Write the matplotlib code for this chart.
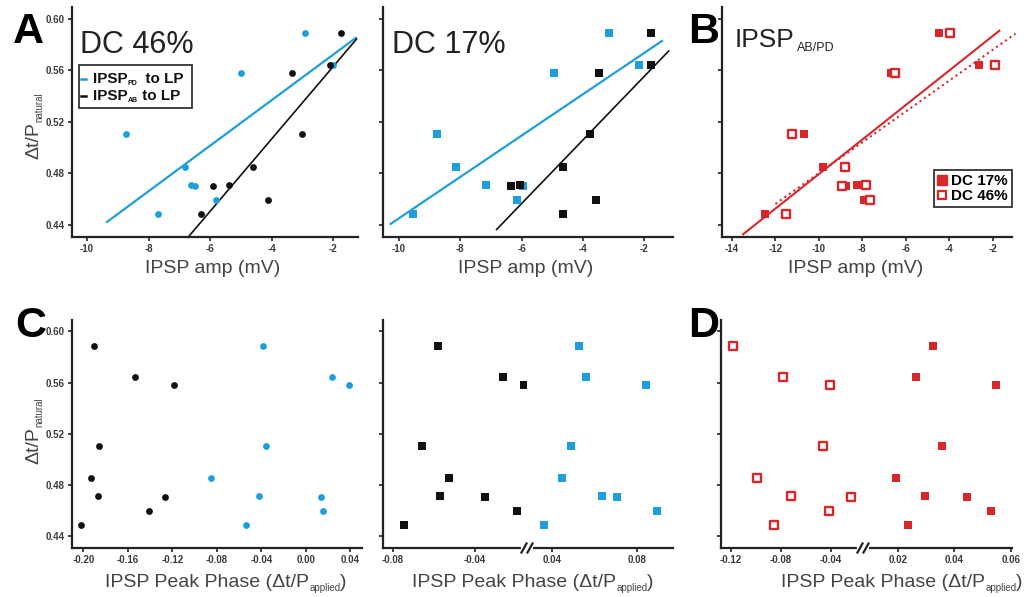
import numpy as np
import matplotlib.pyplot as plt
from matplotlib.lines import Line2D
from matplotlib.patches import Rectangle

plt.rcParams['font.family'] = ['Liberation Sans', 'DejaVu Sans']
plt.rcParams['axes.unicode_minus'] = False

blue = '#1e9fdc'
black = '#111111'
red = '#d8262b'
gray = '#3a3a3a'

# dt/P natural, one value per experiment (shared by every panel)
dtp_natural = [0.589, 0.564, 0.558, 0.510, 0.485, 0.471, 0.470, 0.459, 0.448]

# A: DC 46%, IPSP amplitude (mV)
a46_pd_amp = [-2.92, -2.00, -5.01, -8.72, -6.80, -6.62, -6.48, -5.82, -7.70]
a46_ab_amp = [-1.73, -2.11, -3.32, -3.01, -4.62, -5.40, -5.90, -4.11, -6.31]
a46_pd_fit = ([-9.35, -1.26], [0.442, 0.585])
a46_ab_fit = ([-6.72, -1.24], [0.430, 0.584])

# A: DC 17%
a17_pd_amp = [-3.17, -2.17, -4.95, -8.75, -8.14, -7.17, -5.95, -6.15, -9.55]
a17_ab_amp = [-1.78, -1.80, -3.48, -3.78, -4.67, -6.05, -6.35, -3.58, -4.66]
a17_pd_fit = ([-10.27, -1.43], [0.4405, 0.5826])
a17_ab_fit = ([-6.82, -1.21], [0.4361, 0.5748])

# B: IPSP AB/PD amplitude
b17_amp = [-4.47, -2.64, -6.66, -10.70, -9.81, -8.24, -8.75, -7.94, -12.50]
b46_amp = [-3.95, -1.89, -6.48, -11.25, -8.80, -7.84, -8.92, -7.63, -11.53]
b17_fit = ([-13.49, -1.69], [0.4324, 0.5906])
b46_fit = ([-12.0, -0.95], [0.456, 0.5883])

# C: IPSP peak phase (dt/P applied)
c46_ab_phase = [-0.1907, -0.1539, -0.1188, -0.1859, -0.1931, -0.1868, -0.1269, -0.1407, -0.2021]
c46_pd_phase = [-0.0385, 0.0236, 0.0385, -0.0355, -0.0849, -0.0418, 0.0137, 0.0155, -0.0537]
c17_ab_phase = [-0.058, -0.0264, -0.0163, -0.0658, -0.0526, -0.057, -0.0354, -0.0196, -0.0748]
c17_pd_phase = [0.0527, 0.056, 0.0841, 0.0487, 0.0444, 0.0633, 0.0706, 0.0894, 0.0362]

# D: IPSP AB/PD peak phase
d46_phase = [-0.1187, -0.0781, -0.0408, -0.0459, -0.0992, -0.0723, -0.024, -0.0413, -0.0859]
d17_phase = [0.0325, 0.0264, 0.0547, 0.0356, 0.0195, 0.0296, 0.0446, 0.0528, 0.0236]

yticks = [0.44, 0.48, 0.52, 0.56, 0.60]
amp_ticks = [-10, -8, -6, -4, -2]
b_ticks = [-14, -12, -10, -8, -6, -4, -2]
c_ticks = [-0.20, -0.16, -0.12, -0.08, -0.04, 0.00, 0.04]

W, H = 1029, 597
fig = plt.figure(figsize=(W / 100, H / 100), dpi=100)
renderer = fig.canvas.get_renderer()


def add_ax(l, t, r, b):
    return fig.add_axes([l / W, 1 - b / H, (r - l) / W, (b - t) / H])


def style(ax, ylabels=False, left=True):
    for s in ['top', 'right']:
        ax.spines[s].set_visible(False)
    for s in ['left', 'bottom']:
        ax.spines[s].set_linewidth(1.6)
        ax.spines[s].set_color('#222222')
    ax.set_ylim(0.4303, 0.609)
    ax.set_yticks(yticks)
    ax.set_yticklabels(['%.2f' % v for v in yticks] if ylabels else [])
    ax.tick_params(direction='out', length=3, width=1.2, color='#222222',
                   labelsize=7, labelcolor=gray, pad=2)
    if not left:
        ax.spines['left'].set_visible(False)
        ax.tick_params(axis='y', left=False, labelleft=False)
    for lab in ax.get_xticklabels() + ax.get_yticklabels():
        lab.set_fontweight('bold')


def set_xt(ax, ticks, fmt):
    ax.set_xticks(ticks)
    ax.set_xticklabels([fmt % v for v in ticks])


def px_line(xs, ys, **kw):
    fig.add_artist(Line2D([x / W for x in xs], [1 - y / H for y in ys], **kw))


def brk(bx, by):
    # "//" on a broken x axis, bx/by in pixels from top-left
    px_line([bx - 4, bx + 4], [by, by], color='white', lw=3)
    for dx in (-3, 3):
        px_line([bx + dx - 2.5, bx + dx + 2.5], [by + 4.5, by - 4.5], color='#222222', lw=1.6)


def multi_text(x, y, parts, rotation=0, align='center', color='#444444', weight='normal'):
    # parts: (text, fontsize, baseline drop in px); x, y in px from top-left (baseline)
    widths = []
    for s, fs, _ in parts:
        t = fig.text(0, 0, s, fontsize=fs, fontweight=weight)
        widths.append(t.get_window_extent(renderer).width)
        t.remove()
    pos = -sum(widths) / 2 if align == 'center' else 0
    for (s, fs, dy), w in zip(parts, widths):
        if rotation == 0:
            px, py = x + pos, y + dy
        else:
            px, py = x + dy, y - pos
        fig.text(px / W, 1 - py / H, s, fontsize=fs, color=color, rotation=rotation,
                 rotation_mode='anchor', ha='left', va='baseline', fontweight=weight)
        pos += w


# ---------- A: DC 46% ----------
ax = add_ax(72, 7, 358, 237)
ax.plot(*a46_pd_fit, color=blue, lw=1.6, clip_on=False)
ax.plot(*a46_ab_fit, color=black, lw=1.2, clip_on=False)
ax.scatter(a46_pd_amp, dtp_natural, s=24, color=blue, zorder=3, lw=0)
ax.scatter(a46_ab_amp, dtp_natural, s=24, color=black, zorder=4, lw=0)
ax.set_xlim(-10.49, -1.19)
set_xt(ax, amp_ticks, '%d')
style(ax, ylabels=True)
fig.text(80 / W, 1 - 53 / H, 'DC 46%', fontsize=22, color='#222222', va='baseline')

# legend of panel A, drawn by hand to keep the tiny subscripts
fig.add_artist(Rectangle((78.5 / W, 1 - 108 / H), 113 / W, 43 / H, facecolor='white',
                         edgecolor='#333333', lw=1.3))
for row, (col, sub, rest) in enumerate([(blue, 'PD', '  to LP'), (black, 'AB', ' to LP')]):
    by = 83 + row * 17
    px_line([81, 85.5], [by - 4.5, by - 4.5], color=col, lw=1.8)
    multi_text(93, by, [('IPSP', 11, 0), (sub, 5, 2), (rest, 11, 0)], align='left',
               color='#111111', weight='bold')

# ---------- A: DC 17% ----------
ax = add_ax(383, 7, 673, 237)
ax.plot(*a17_pd_fit, color=blue, lw=1.6, clip_on=False)
ax.plot(*a17_ab_fit, color=black, lw=1.2, clip_on=False)
ax.scatter(a17_pd_amp, dtp_natural, s=26, marker='s', color=blue, zorder=3, lw=0)
ax.scatter(a17_ab_amp, dtp_natural, s=26, marker='s', color=black, zorder=4, lw=0)
ax.set_xlim(-10.52, -1.07)
set_xt(ax, amp_ticks, '%d')
style(ax)
fig.text(392 / W, 1 - 53 / H, 'DC 17%', fontsize=22, color='#222222', va='baseline')

# ---------- B ----------
ax = add_ax(722, 7, 1012, 237)
ax.plot(*b17_fit, color=red, lw=1.5, clip_on=False)
ax.plot(*b46_fit, color=red, lw=1.5, ls=':', clip_on=False)
ax.scatter(b17_amp, dtp_natural, s=28, marker='s', color=red, zorder=3, lw=0)
ax.scatter(b46_amp, dtp_natural, s=30, marker='s', facecolor='white', edgecolor=red,
           lw=1.7, zorder=3)
ax.set_xlim(-14.46, -1.11)
set_xt(ax, b_ticks, '%d')
style(ax)
handles = [Line2D([], [], ls='', marker='s', ms=6.5, color=red),
           Line2D([], [], ls='', marker='s', ms=6, mfc='white', mec=red, mew=1.6)]
leg = ax.legend(handles, ['DC 17%', 'DC 46%'], loc='upper right',
                bbox_to_anchor=(0.999, 0.291), borderaxespad=0, handlelength=0.6,
                handletextpad=0.3, fancybox=False, framealpha=1, edgecolor='#333333',
                prop={'weight': 'bold', 'size': 11}, borderpad=0.25, labelspacing=0.1)
leg.get_frame().set_linewidth(1.3)
fig.text(735 / W, 1 - 47 / H, 'IPSP', fontsize=19, color='#222222', va='baseline')
fig.text(797 / W, 1 - 51 / H, 'AB/PD', fontsize=9, color='#222222', va='baseline')

# ---------- C: DC 46% ----------
ax = add_ax(72, 320, 362, 548)
ax.scatter(c46_ab_phase, dtp_natural, s=24, color=black, zorder=3, lw=0)
ax.scatter(c46_pd_phase, dtp_natural, s=24, color=blue, zorder=3, lw=0)
ax.set_xlim(-0.2102, 0.0505)
set_xt(ax, c_ticks, '%.2f')
style(ax, ylabels=True)

# ---------- C: DC 17% (broken axis) ----------
axl = add_ax(383, 320, 527, 548)
axr = add_ax(527, 320, 673, 548)
axl.scatter(c17_ab_phase, dtp_natural, s=26, marker='s', color=black, lw=0, clip_on=False)
axr.scatter(c17_pd_phase, dtp_natural, s=26, marker='s', color=blue, lw=0, clip_on=False)
axl.set_xlim(-0.0849, -0.0147)
axr.set_xlim(0.028, 0.0969)
set_xt(axl, [-0.08, -0.04], '%.2f')
set_xt(axr, [0.04, 0.08], '%.2f')
style(axl)
style(axr, left=False)
brk(527, 548)

# ---------- D (broken axis) ----------
axl = add_ax(721, 320, 863, 548)
axr = add_ax(863, 320, 1012, 548)
axl.scatter(d46_phase, dtp_natural, s=30, marker='s', facecolor='white', edgecolor=red,
            lw=1.7, clip_on=False)
axr.scatter(d17_phase, dtp_natural, s=28, marker='s', color=red, lw=0, clip_on=False)
axl.set_xlim(-0.128, -0.0142)
axr.set_xlim(0.0077, 0.0604)
set_xt(axl, [-0.12, -0.08, -0.04], '%.2f')
set_xt(axr, [0.02, 0.04, 0.06], '%.2f')
style(axl)
style(axr, left=False)
brk(863, 548)

# axis titles
for cx in (213, 526, 856):
    multi_text(cx, 273, [('IPSP amp (mV)', 14, 0)])
for cx in (226, 533, 902):
    multi_text(cx, 587, [('IPSP Peak Phase (\u0394t/P', 14, 0), ('applied', 7, 4), (')', 14, 0)])
for cy in (126, 431):
    multi_text(38, cy, [('\u0394t/P', 14, 0), ('natural', 7, 4)], rotation=90)

# panel letters
for x, y, s in [(13, 43, 'A'), (688, 43, 'B'), (15, 337, 'C'), (688, 337, 'D')]:
    fig.text(x / W, 1 - y / H, s, fontsize=31, fontweight='bold', color='black',
             va='baseline')

fig.savefig('out.png', dpi=100)
